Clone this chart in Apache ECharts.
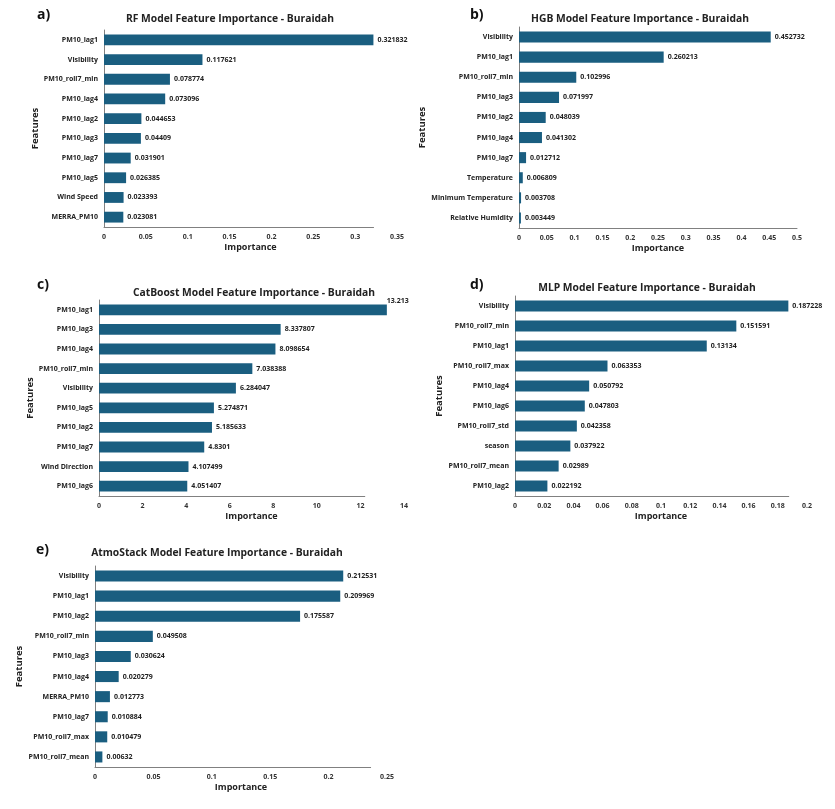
<!DOCTYPE html>
<html><head><meta charset="utf-8">
<script src="https://cdn.jsdelivr.net/npm/echarts@6/dist/echarts.min.js"></script>
<style>html,body{margin:0;padding:0;background:#fff}#c{width:835px;height:809px}</style>
</head><body><div id="c"></div>
<script>
// ---- data ----
const rfFeatures = ['PM10_lag1','Visibility','PM10_roll7_min','PM10_lag4','PM10_lag2','PM10_lag3','PM10_lag7','PM10_lag5','Wind Speed','MERRA_PM10'];
const rfValues = [0.321832,0.117621,0.078774,0.073096,0.044653,0.04409,0.031901,0.026385,0.023393,0.023081];
const hgbFeatures = ['Visibility','PM10_lag1','PM10_roll7_min','PM10_lag3','PM10_lag2','PM10_lag4','PM10_lag7','Temperature','Minimum Temperature','Relative Humidity'];
const hgbValues = [0.452732,0.260213,0.102996,0.071997,0.048039,0.041302,0.012712,0.006809,0.003708,0.003449];
const cbFeatures = ['PM10_lag1','PM10_lag3','PM10_lag4','PM10_roll7_min','Visibility','PM10_lag5','PM10_lag2','PM10_lag7','Wind Direction','PM10_lag6'];
const cbValues = [13.213,8.337807,8.098654,7.038388,6.284047,5.274871,5.185633,4.8301,4.107499,4.051407];
const mlpFeatures = ['Visibility','PM10_roll7_min','PM10_lag1','PM10_roll7_max','PM10_lag4','PM10_lag6','PM10_roll7_std','season','PM10_roll7_mean','PM10_lag2'];
const mlpValues = [0.187228,0.151591,0.13134,0.063353,0.050792,0.047803,0.042358,0.037922,0.02989,0.022192];
const asFeatures = ['Visibility','PM10_lag1','PM10_lag2','PM10_roll7_min','PM10_lag3','PM10_lag4','MERRA_PM10','PM10_lag7','PM10_roll7_max','PM10_roll7_mean'];
const asValues = [0.212531,0.209969,0.175587,0.049508,0.030624,0.020279,0.012773,0.010884,0.010479,0.00632];
const panelLetters = ['a)','b)','c)','d)','e)'];
const panelTitles = ['RF Model Feature Importance - Buraidah','HGB Model Feature Importance - Buraidah','CatBoost Model Feature Importance - Buraidah','MLP Model Feature Importance - Buraidah','AtmoStack Model Feature Importance - Buraidah'];
const axisMax = [0.35,0.5,14,0.2,0.25];
const axisInterval = [0.05,0.05,2,0.02,0.05];
const xAxisName = 'Importance';
const yAxisName = 'Features';

// ---- layout (styles / positions) ----
const panels = [
  {f:rfFeatures, v:rfValues, left:104, top:30, width:293, height:197, lineEnd:0.322, titleX:230, titleY:19, letterX:37, letterY:15, nameGapY:62},
  {f:hgbFeatures, v:hgbValues, left:519, top:27, width:278, height:201, lineEnd:0.5, titleX:640, titleY:19, letterX:470, letterY:15, nameGapY:86},
  {f:cbFeatures, v:cbValues, left:99, top:300, width:305, height:196, lineEnd:12.2, titleX:254, titleY:293, letterX:37, letterY:285, nameGapY:61},
  {f:mlpFeatures, v:mlpValues, left:515, top:296, width:292, height:200, lineEnd:0.1875, titleX:647, titleY:288, letterX:470, letterY:285, nameGapY:63},
  {f:asFeatures, v:asValues, left:95, top:566, width:292, height:201, lineEnd:0.236, titleX:217, titleY:553, letterX:36, letterY:550, nameGapY:69}
];
const FONT = '"Open Sans", "Liberation Sans", sans-serif';
const BAR = '#1a5e80';
const AXIS = '#808080';

const grid=[], xAxis=[], yAxis=[], series=[], graphic=[];
panels.forEach((p,i)=>{
  const g = grid.length;
  grid.push({left:p.left, top:p.top, width:p.width, height:p.height, containLabel:false});
  xAxis.push({type:'value', gridIndex:g, min:0, max:axisMax[i], interval:axisInterval[i],
    axisLine:{show:false}, axisTick:{show:false}, splitLine:{show:false},
    axisLabel:{margin:6, fontSize:7, fontWeight:'bold', color:'#333', fontFamily:FONT,
      formatter:v=>String(+v.toFixed(4))},
    name:xAxisName, nameLocation:'middle', nameGap:16,
    nameTextStyle:{fontSize:9, fontWeight:'bold', color:'#222', fontFamily:FONT}});
  yAxis.push({type:'category', gridIndex:g, data:p.f, inverse:true,
    axisLine:{show:true, lineStyle:{color:AXIS, width:1}}, axisTick:{show:false},
    axisLabel:{margin:6, fontSize:7, fontWeight:'bold', color:'#222', fontFamily:FONT},
    name:yAxisName, nameLocation:'middle', nameGap:p.nameGapY, nameRotate:90,
    nameTextStyle:{fontSize:9.5, fontWeight:'bold', color:'#222', fontFamily:FONT}});
  const data = p.v.map((val,k)=>{
    if (i===2 && k===0) return {value:val, label:{position:['100%',-7], align:'left'}};
    return val;
  });
  series.push({type:'bar', xAxisIndex:g, yAxisIndex:g, data:data, barWidth:'55%',
    itemStyle:{color:BAR}, silent:true,
    label:{show:true, position:'right', distance:4, fontSize:7, fontWeight:'bold', color:'#222', fontFamily:FONT,
      formatter:o=>String(o.value)}});
  // partial x-axis line grid
  const g2 = grid.length;
  grid.push({left:p.left, top:p.top, width:p.width*p.lineEnd/axisMax[i], height:p.height});
  xAxis.push({type:'value', gridIndex:g2, min:0, max:p.lineEnd, axisLine:{show:true, onZero:false, lineStyle:{color:AXIS, width:1}},
    axisTick:{show:false}, axisLabel:{show:false}, splitLine:{show:false}});
  yAxis.push({type:'category', gridIndex:g2, data:p.f, show:false});
  graphic.push({type:'text', x:p.titleX, y:p.titleY, style:{text:panelTitles[i], font:'bold 10.3px '+FONT, fill:'#222', align:'center', verticalAlign:'middle'}});
  graphic.push({type:'text', x:p.letterX, y:p.letterY, style:{text:panelLetters[i], font:'bold 14px '+FONT, fill:'#111', align:'left', verticalAlign:'middle'}});
});

const chart = echarts.init(document.getElementById('c'), null, {renderer:'canvas'});
chart.setOption({animation:false, backgroundColor:'#fff', grid, xAxis, yAxis, series, graphic});
</script></body></html>
